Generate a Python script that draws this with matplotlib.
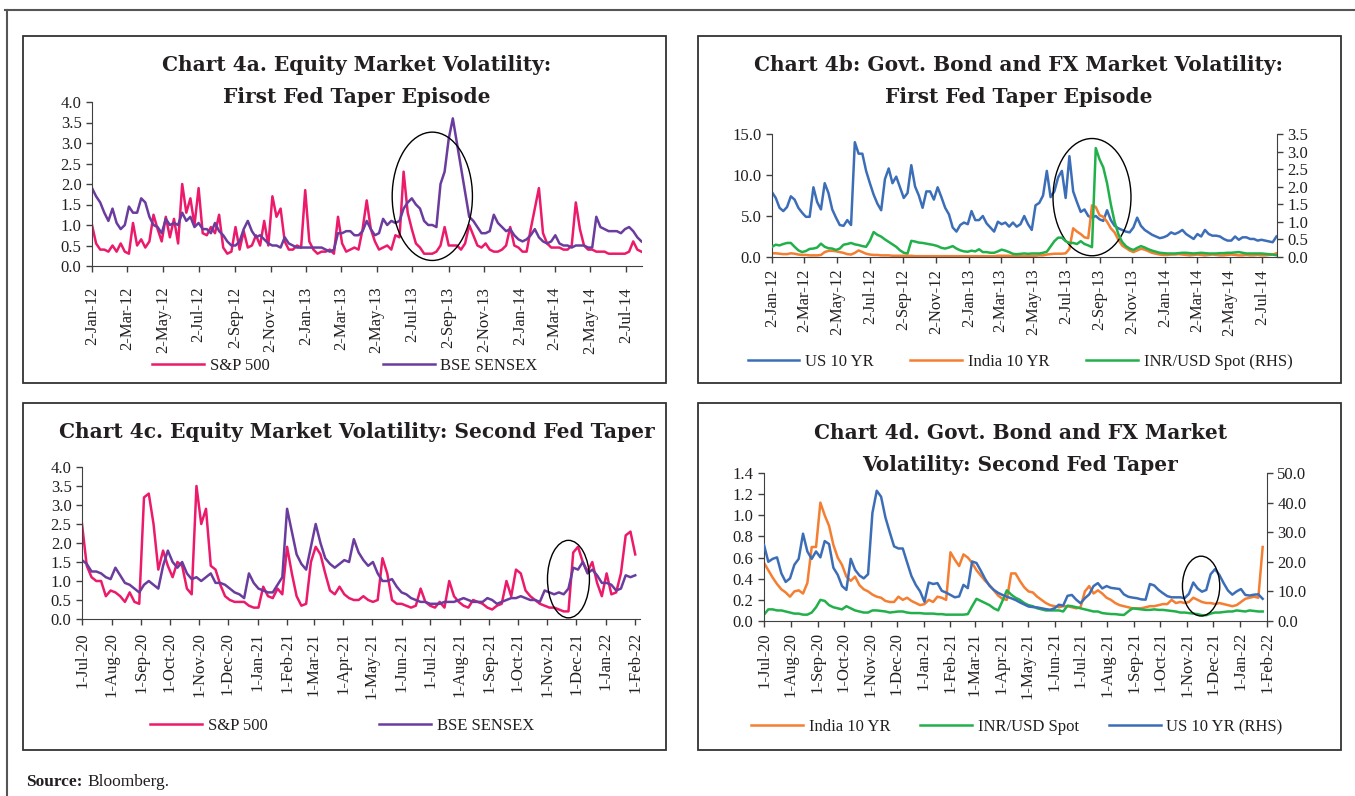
import matplotlib
matplotlib.use("Agg")
import matplotlib.pyplot as plt
import matplotlib.dates as mdates
from matplotlib.patches import Rectangle, Ellipse
from matplotlib.lines import Line2D
import numpy as np
import pandas as pd

# ---------------- data ----------------
START_1 = "2012-01-02"   # weekly observations, first taper episode
START_2 = "2020-07-01"   # 5-day observations, second taper episode

TICKS_1 = ["2-Jan-12", "2-Mar-12", "2-May-12", "2-Jul-12", "2-Sep-12", "2-Nov-12",
           "2-Jan-13", "2-Mar-13", "2-May-13", "2-Jul-13", "2-Sep-13", "2-Nov-13",
           "2-Jan-14", "2-Mar-14", "2-May-14", "2-Jul-14"]
TICKS_2 = ["1-Jul-20", "1-Aug-20", "1-Sep-20", "1-Oct-20", "1-Nov-20", "1-Dec-20",
           "1-Jan-21", "1-Feb-21", "1-Mar-21", "1-Apr-21", "1-May-21", "1-Jun-21",
           "1-Jul-21", "1-Aug-21", "1-Sep-21", "1-Oct-21", "1-Nov-21", "1-Dec-21",
           "1-Jan-22", "1-Feb-22"]

# Chart 4a
sp500_a = [1.0, 0.55, 0.4, 0.4, 0.35, 0.5, 0.35, 0.55, 0.35, 0.3,
           1.05, 0.5, 0.65, 0.45, 0.6, 1.25, 0.9, 0.6, 1.2, 0.7,
           1.15, 0.55, 2.0, 1.3, 1.65, 1.0, 1.9, 0.8, 0.75, 0.95,
           0.8, 1.25, 0.45, 0.3, 0.35, 0.95, 0.4, 0.85, 0.45, 0.5,
           0.75, 0.5, 1.1, 0.5, 1.7, 1.2, 1.4, 0.6, 0.4, 0.4,
           0.5, 0.45, 1.85, 0.6, 0.4, 0.3, 0.35, 0.35, 0.4, 0.3,
           1.2, 0.55, 0.35, 0.4, 0.45, 0.4, 0.9, 1.6, 0.9, 0.6,
           0.4, 0.45, 0.5, 0.4, 0.75, 0.7, 2.3, 1.3, 0.9, 0.55,
           0.45, 0.3, 0.3, 0.3, 0.35, 0.5, 0.95, 0.5, 0.5, 0.5,
           0.4, 0.55, 1.0, 0.75, 0.5, 0.45, 0.55, 0.4, 0.35, 0.35,
           0.4, 0.5, 0.95, 0.5, 0.45, 0.35, 0.35, 0.9, 1.4, 1.9,
           0.8, 0.55, 0.45, 0.45, 0.45, 0.4, 0.4, 0.5, 1.55, 0.9,
           0.5, 0.4, 0.4, 0.35, 0.35, 0.35, 0.3, 0.3, 0.3, 0.3,
           0.3, 0.35, 0.6, 0.4, 0.35]
sensex_a = [1.9, 1.7, 1.55, 1.3, 1.1, 1.4, 1.05, 0.9, 1.0, 1.45,
            1.3, 1.3, 1.65, 1.55, 1.2, 1.0, 0.95, 0.8, 1.15, 1.0,
            1.05, 1.0, 1.3, 1.1, 1.2, 0.95, 1.05, 0.9, 0.9, 0.8,
            1.05, 0.85, 0.75, 0.6, 0.5, 0.5, 0.6, 0.9, 1.1, 0.85,
            0.7, 0.75, 0.65, 0.55, 0.5, 0.5, 0.45, 0.7, 0.55, 0.5,
            0.45, 0.45, 0.45, 0.45, 0.45, 0.45, 0.45, 0.4, 0.35, 0.4,
            0.8, 0.8, 0.85, 0.85, 0.75, 0.75, 0.85, 1.1, 0.9, 0.75,
            0.8, 1.15, 1.0, 1.1, 1.05, 1.1, 1.4, 1.55, 1.65, 1.5,
            1.4, 1.1, 1.0, 1.0, 0.95, 2.0, 2.3, 3.1, 3.6, 3.0,
            2.4, 1.8, 1.2, 1.1, 0.95, 0.8, 0.8, 0.85, 1.25, 1.05,
            0.95, 0.85, 0.9, 0.75, 0.65, 0.6, 0.65, 0.75, 0.9, 0.7,
            0.6, 0.55, 0.6, 0.75, 0.55, 0.5, 0.5, 0.45, 0.5, 0.5,
            0.5, 0.45, 0.45, 1.2, 0.95, 0.9, 0.85, 0.85, 0.85, 0.8,
            0.9, 0.95, 0.85, 0.7, 0.6]

# Chart 4b
us10_b = [7.9, 7.2, 6.0, 5.6, 6.1, 7.4, 7.0, 6.0, 5.4, 4.9,
          4.9, 8.5, 6.7, 5.8, 9.0, 7.8, 5.8, 4.8, 3.9, 3.8,
          4.5, 3.9, 14.0, 12.6, 12.6, 10.5, 9.0, 7.6, 6.5, 5.7,
          9.5, 10.8, 9.0, 9.8, 8.5, 7.2, 7.8, 11.2, 8.6, 7.5,
          6.0, 8.0, 8.0, 7.0, 8.5, 7.3, 6.0, 5.2, 3.6, 3.1,
          3.9, 4.2, 4.0, 5.6, 4.5, 4.5, 5.0, 4.1, 3.6, 3.1,
          4.3, 4.0, 4.2, 3.7, 4.2, 3.7, 4.0, 5.0, 4.0, 3.3,
          6.3, 6.6, 7.5, 10.5, 7.3, 8.0, 9.7, 10.5, 7.2, 12.3,
          8.0, 6.7, 5.5, 5.8, 5.0, 4.8, 5.0, 4.6, 4.4, 5.7,
          4.5, 3.8, 3.5, 3.3, 3.1, 3.0, 3.6, 4.8, 3.8, 3.3,
          3.0, 2.7, 2.5, 2.3, 2.4, 2.6, 3.0, 2.8, 3.0, 3.3,
          2.8, 2.5, 2.2, 2.8, 2.5, 3.3, 2.8, 2.6, 2.6, 2.5,
          2.2, 2.0, 2.0, 2.5, 2.1, 2.4, 2.4, 2.2, 2.2, 2.0,
          2.1, 2.0, 1.9, 1.8, 2.5]
india10_b = [0.45, 0.45, 0.4, 0.35, 0.35, 0.45, 0.4, 0.3, 0.25, 0.25,
             0.2, 0.2, 0.2, 0.25, 0.6, 0.75, 0.75, 0.7, 0.6, 0.5,
             0.35, 0.3, 0.5, 0.8, 0.6, 0.4, 0.3, 0.25, 0.25, 0.2,
             0.2, 0.2, 0.15, 0.15, 0.15, 0.15, 0.15, 0.15, 0.1, 0.1,
             0.1, 0.1, 0.1, 0.1, 0.1, 0.1, 0.1, 0.1, 0.1, 0.1,
             0.1, 0.1, 0.1, 0.1, 0.1, 0.1, 0.1, 0.1, 0.1, 0.1,
             0.15, 0.15, 0.15, 0.15, 0.1, 0.1, 0.1, 0.1, 0.1, 0.15,
             0.15, 0.2, 0.2, 0.3, 0.35, 0.4, 0.4, 0.4, 0.45, 1.0,
             3.5, 3.1, 2.8, 2.4, 2.3, 6.3, 6.1, 5.1, 4.9, 4.3,
             3.5, 3.0, 2.1, 1.4, 1.1, 0.8, 0.6, 0.8, 1.0, 0.9,
             0.7, 0.5, 0.4, 0.3, 0.25, 0.25, 0.3, 0.3, 0.35, 0.3,
             0.25, 0.2, 0.25, 0.3, 0.25, 0.2, 0.25, 0.3, 0.25, 0.2,
             0.2, 0.25, 0.3, 0.25, 0.2, 0.2, 0.25, 0.2, 0.2, 0.25,
             0.2, 0.2, 0.25, 0.3, 0.45]
inrusd_b = [0.29, 0.35, 0.33, 0.37, 0.40, 0.40, 0.29, 0.19, 0.14, 0.17,
            0.23, 0.24, 0.27, 0.38, 0.29, 0.25, 0.24, 0.20, 0.24, 0.35,
            0.37, 0.40, 0.36, 0.34, 0.31, 0.29, 0.46, 0.71, 0.63, 0.58,
            0.50, 0.43, 0.36, 0.29, 0.19, 0.12, 0.10, 0.46, 0.44, 0.41,
            0.40, 0.38, 0.36, 0.34, 0.31, 0.26, 0.24, 0.27, 0.31, 0.24,
            0.19, 0.16, 0.15, 0.18, 0.16, 0.22, 0.14, 0.14, 0.12, 0.12,
            0.16, 0.21, 0.18, 0.14, 0.09, 0.08, 0.09, 0.1, 0.09, 0.1,
            0.1, 0.1, 0.12, 0.15, 0.3, 0.45, 0.55, 0.55, 0.45, 0.4,
            0.4, 0.37, 0.45, 0.37, 0.33, 0.28, 3.1, 2.78, 2.55, 2.1,
            1.5, 1.0, 0.65, 0.43, 0.31, 0.24, 0.2, 0.26, 0.31, 0.27,
            0.22, 0.18, 0.15, 0.12, 0.11, 0.1, 0.1, 0.1, 0.11, 0.12,
            0.12, 0.11, 0.1, 0.11, 0.12, 0.11, 0.1, 0.1, 0.1, 0.11,
            0.11, 0.12, 0.12, 0.13, 0.14, 0.12, 0.1, 0.1, 0.1, 0.1,
            0.1, 0.09, 0.08, 0.07, 0.05]

# Chart 4c
sp500_c = [2.5, 1.4, 1.1, 1.0, 1.0, 0.6, 0.75, 0.7, 0.6, 0.45,
           0.7, 0.45, 0.4, 3.2, 3.3, 2.5, 1.3, 1.8, 1.4, 1.1,
           1.5, 1.4, 0.8, 0.65, 3.5, 2.5, 2.9, 1.4, 1.3, 0.9,
           0.6, 0.5, 0.45, 0.45, 0.45, 0.35, 0.3, 0.3, 0.85, 0.6,
           0.55, 0.8, 0.65, 1.9, 1.2, 0.6, 0.35, 0.4, 1.5, 1.9,
           1.7, 1.2, 0.75, 0.65, 0.85, 0.65, 0.55, 0.5, 0.5, 0.6,
           0.5, 0.45, 0.5, 1.6, 1.2, 0.5, 0.4, 0.4, 0.35, 0.3,
           0.35, 0.8, 0.45, 0.35, 0.3, 0.45, 0.3, 1.0, 0.6, 0.45,
           0.35, 0.3, 0.5, 0.45, 0.4, 0.3, 0.25, 0.35, 0.4, 1.0,
           0.6, 1.3, 1.2, 0.75, 0.6, 0.5, 0.4, 0.35, 0.3, 0.3,
           0.25, 0.2, 0.2, 1.75, 1.9, 1.5, 1.25, 1.5, 0.95, 0.6,
           1.2, 0.65, 0.7, 1.2, 2.2, 2.3, 1.7]
sensex_c = [1.55, 1.45, 1.25, 1.25, 1.2, 1.1, 1.05, 1.35, 1.15, 0.95,
            0.9, 0.8, 0.7, 0.9, 1.0, 0.9, 0.8, 1.4, 1.8, 1.5,
            1.35, 1.5, 1.2, 1.05, 1.1, 1.0, 1.1, 1.2, 0.95, 0.95,
            0.9, 0.8, 0.7, 0.65, 0.55, 1.2, 0.95, 0.8, 0.75, 0.7,
            0.7, 0.9, 1.1, 2.9, 2.3, 1.7, 1.45, 1.3, 1.9, 2.5,
            2.0, 1.6, 1.45, 1.35, 1.45, 1.55, 1.5, 2.1, 1.75, 1.55,
            1.4, 1.5, 1.2, 1.0, 1.0, 1.05, 0.85, 0.7, 0.65, 0.55,
            0.5, 0.45, 0.45, 0.4, 0.4, 0.4, 0.45, 0.45, 0.45, 0.5,
            0.55, 0.5, 0.45, 0.45, 0.45, 0.55, 0.5, 0.4, 0.45, 0.5,
            0.55, 0.55, 0.6, 0.55, 0.5, 0.5, 0.45, 0.75, 0.7, 0.65,
            0.7, 0.65, 0.8, 1.35, 1.3, 1.5, 1.2, 1.3, 1.15, 0.95,
            0.95, 0.9, 0.75, 0.8, 1.15, 1.1, 1.15]

# Chart 4d
india10_d = [0.55, 0.48, 0.41, 0.35, 0.3, 0.27, 0.23, 0.28, 0.29, 0.26,
             0.36, 0.7, 0.7, 1.12, 1.0, 0.9, 0.72, 0.6, 0.53, 0.42,
             0.38, 0.42, 0.34, 0.3, 0.28, 0.25, 0.23, 0.22, 0.19, 0.18,
             0.18, 0.23, 0.2, 0.22, 0.19, 0.17, 0.15, 0.16, 0.2, 0.18,
             0.23, 0.22, 0.2, 0.65, 0.58, 0.52, 0.63, 0.6, 0.55, 0.48,
             0.43, 0.38, 0.34, 0.29, 0.24, 0.21, 0.2, 0.45, 0.45, 0.38,
             0.32, 0.28, 0.27, 0.23, 0.2, 0.17, 0.15, 0.14, 0.13, 0.14,
             0.14, 0.13, 0.12, 0.13, 0.28, 0.33, 0.26, 0.29, 0.26, 0.22,
             0.2, 0.17, 0.15, 0.14, 0.13, 0.12, 0.12, 0.12, 0.13, 0.14,
             0.14, 0.15, 0.16, 0.16, 0.2, 0.17, 0.18, 0.17, 0.18, 0.22,
             0.2, 0.18, 0.17, 0.17, 0.16, 0.17, 0.16, 0.15, 0.14, 0.15,
             0.18, 0.21, 0.22, 0.23, 0.22, 0.7]
inrusd_d = [0.06, 0.11, 0.11, 0.1, 0.1, 0.09, 0.08, 0.07, 0.07, 0.06,
            0.06, 0.08, 0.13, 0.2, 0.19, 0.15, 0.13, 0.12, 0.11, 0.14,
            0.12, 0.1, 0.09, 0.08, 0.08, 0.1, 0.1, 0.095, 0.09, 0.08,
            0.085, 0.09, 0.09, 0.08, 0.075, 0.075, 0.075, 0.07, 0.07, 0.07,
            0.065, 0.065, 0.06, 0.06, 0.06, 0.06, 0.06, 0.065, 0.14, 0.21,
            0.19, 0.17, 0.15, 0.12, 0.1, 0.19, 0.29, 0.25, 0.22, 0.2,
            0.17, 0.15, 0.14, 0.12, 0.11, 0.1, 0.1, 0.1, 0.1, 0.09,
            0.145, 0.14, 0.13, 0.12, 0.11, 0.1, 0.09, 0.09, 0.075, 0.07,
            0.066, 0.065, 0.06, 0.057, 0.09, 0.12, 0.115, 0.11, 0.105, 0.105,
            0.11, 0.105, 0.105, 0.1, 0.095, 0.09, 0.08, 0.08, 0.075, 0.07,
            0.065, 0.055, 0.055, 0.07, 0.08, 0.08, 0.085, 0.09, 0.09, 0.1,
            0.095, 0.09, 0.1, 0.095, 0.09, 0.09]
us10_d = [25.7, 20.0, 21.0, 21.5, 16.1, 13.2, 14.4, 19.0, 21.0, 29.5,
          23.5, 21.0, 23.5, 21.5, 27.0, 26.0, 18.0, 15.6, 11.8, 10.5,
          21.0, 17.3, 15.4, 14.4, 15.8, 36.5, 44.0, 42.0, 35.0, 30.0,
          25.2, 24.5, 24.5, 19.8, 15.2, 12.2, 10.0, 6.5, 13.0, 12.5,
          12.8, 10.2, 9.6, 8.8, 8.0, 8.3, 12.2, 11.1, 20.1, 19.6,
          17.0, 14.2, 11.9, 10.5, 9.5, 8.8, 8.2, 7.7, 7.1, 6.3,
          5.6, 4.9, 4.7, 4.6, 4.3, 4.0, 3.8, 4.3, 5.5, 5.2,
          8.5, 8.8, 7.2, 6.0, 7.7, 9.0, 11.8, 12.8, 11.0, 11.8,
          11.2, 11.0, 10.8, 9.0, 8.2, 7.9, 7.7, 7.3, 7.2, 12.5,
          12.0, 10.5, 9.4, 8.4, 8.0, 8.0, 8.0, 7.7, 9.2, 13.0,
          11.0, 9.9, 10.5, 15.8, 17.5, 15.6, 12.8, 10.3, 8.9, 10.0,
          10.8, 8.8, 8.6, 8.9, 9.0, 7.5]

# ---------------- style ----------------
PINK = "#EC1A6A"
PURPLE = "#6A3C9E"
BLUE = "#3C6EB8"
ORANGE = "#F47E31"
GREEN = "#22B04B"
AX_COL = "#404040"
TXT = "#231f20"
SERIF = "Liberation Serif"
TFONT = "DejaVu Serif"
TSIZE = 14.5
LW = 1.8

W, H = 1355, 796
fig = plt.figure(figsize=(W / 100, H / 100), dpi=100)
fig.patch.set_facecolor("white")


def fx(x):
    return x / W


def fy(y):
    return 1 - y / H


def make_axes(l, r, t, b):
    return fig.add_axes([fx(l), fy(b), fx(r - l), (b - t) / H])


def style_axis(ax, right=False, xpad=3.5):
    for s in ["top", "right", "left", "bottom"]:
        ax.spines[s].set_visible(False)
    if right:
        ax.spines["right"].set_visible(True)
        ax.spines["right"].set_color(AX_COL)
    else:
        ax.spines["left"].set_visible(True)
        ax.spines["bottom"].set_visible(True)
        ax.spines["left"].set_color(AX_COL)
        ax.spines["bottom"].set_color(AX_COL)
    ax.tick_params(direction="out", length=4, width=1, colors=AX_COL,
                   labelcolor=TXT, labelsize=12)
    ax.tick_params(axis="x", pad=xpad)
    for lab in ax.get_xticklabels() + ax.get_yticklabels():
        lab.set_fontfamily(SERIF)
    ax.set_facecolor("none")


def set_dates(ax, ticks, xmin, xmax):
    tdates = pd.to_datetime(ticks, format="%d-%b-%y")
    ax.set_xticks(tdates)
    ax.set_xticklabels(ticks, rotation=90, fontfamily=SERIF, fontsize=12, color=TXT)
    ax.set_xlim(pd.Timestamp(xmin), pd.Timestamp(xmax))


def set_y(ax, lo, hi, step, fmt="{:.1f}"):
    vals = np.arange(lo, hi + step / 2, step)
    ax.set_yticks(vals)
    ax.set_yticklabels([fmt.format(v) for v in vals], fontfamily=SERIF,
                       fontsize=12, color=TXT)
    ax.set_ylim(lo, hi)


def add_ellipse(ax, center_date, center_y, width_days, height):
    e = Ellipse((mdates.date2num(pd.Timestamp(center_date)), center_y),
                width_days, height, fill=False, ec="black", lw=1.0, zorder=10)
    ax.add_patch(e)


def legend(handles, labels, cx, cy, colsp):
    fig.legend(handles, labels, loc="center", bbox_to_anchor=(fx(cx), fy(cy)),
               ncol=len(handles), frameon=False, handlelength=3.1,
               handletextpad=0.35, columnspacing=colsp,
               prop={"family": SERIF, "size": 12}, labelcolor=TXT)


def title(cx, cy, text):
    fig.text(fx(cx), fy(cy), text, ha="center", va="center", fontfamily=TFONT,
             fontweight="bold", fontsize=TSIZE, color=TXT, linespacing=1.75)


d1 = pd.date_range(START_1, periods=len(sp500_a), freq="7D")
d1b = pd.date_range(START_1, periods=len(us10_b), freq="7D")
d2c = pd.date_range(START_2, periods=len(sp500_c), freq="5D")
d2d = pd.date_range(START_2, periods=len(india10_d), freq="5D")

# ---------------- frame & boxes ----------------
fig.add_artist(Line2D([fx(5), 1], [fy(10), fy(10)], transform=fig.transFigure,
                      color="#555555", lw=1.5))
fig.add_artist(Line2D([fx(7), fx(7)], [fy(10), 0], transform=fig.transFigure,
                      color="#555555", lw=1.5))
for (l, t, r, b) in [(23, 36, 666, 383), (698, 36, 1341, 383),
                     (23, 403, 666, 750), (698, 403, 1341, 750)]:
    fig.add_artist(Rectangle((fx(l), fy(b)), fx(r - l), (b - t) / H,
                             transform=fig.transFigure, fill=False,
                             ec="#333333", lw=1.3))

# ---------------- Chart 4a ----------------
ax = make_axes(92, 642, 102, 266)
l1, = ax.plot(d1, sp500_a, color=PINK, lw=LW)
l2, = ax.plot(d1, sensex_a, color=PURPLE, lw=LW)
set_dates(ax, TICKS_1, "2012-01-02", "2014-07-29")
set_y(ax, 0, 4.0, 0.5)
style_axis(ax, xpad=11)
add_ellipse(ax, "2013-08-05", 1.70, 137, 3.13)
title(357, 81, "Chart 4a. Equity Market Volatility:\nFirst Fed Taper Episode")
legend([l1, l2], ["S&P 500", "BSE SENSEX"], 345, 366, 6.8)

# ---------------- Chart 4b ----------------
ax = make_axes(772, 1277, 134, 257)
b1, = ax.plot(d1b, us10_b, color=BLUE, lw=LW)
b2, = ax.plot(d1b, india10_b, color=ORANGE, lw=LW)
set_dates(ax, TICKS_1, "2012-01-02", "2014-07-29")
set_y(ax, 0, 15.0, 5.0)
style_axis(ax, xpad=4.5)
ax2 = ax.twinx()
b3, = ax2.plot(d1b, inrusd_b, color=GREEN, lw=LW)
set_y(ax2, 0, 3.5, 0.5)
style_axis(ax2, right=True)
ax2.set_xlim(ax.get_xlim())
add_ellipse(ax, "2013-08-19", 7.3, 145, 14.3)
title(1019, 81, "Chart 4b: Govt. Bond and FX Market Volatility:\nFirst Fed Taper Episode")
legend([b1, b2, b3], ["US 10 YR", "India 10 YR", "INR/USD Spot (RHS)"], 1020, 362, 2.2)

# ---------------- Chart 4c ----------------
ax = make_axes(82, 640, 467, 619)
c1, = ax.plot(d2c, sp500_c, color=PINK, lw=LW)
c2, = ax.plot(d2c, sensex_c, color=PURPLE, lw=LW)
set_dates(ax, TICKS_2, "2020-07-01", "2022-02-06")
set_y(ax, 0, 4.0, 0.5)
style_axis(ax, xpad=5.5)
add_ellipse(ax, "2021-11-23", 1.05, 44, 2.04)
title(357, 432, "Chart 4c. Equity Market Volatility: Second Fed Taper")
legend([c1, c2], ["S&P 500", "BSE SENSEX"], 342, 726, 6.7)

# ---------------- Chart 4d ----------------
ax = make_axes(764, 1267, 473, 621)
e1, = ax.plot(d2d, india10_d, color=ORANGE, lw=LW)
e2, = ax.plot(d2d, inrusd_d, color=GREEN, lw=LW)
set_dates(ax, TICKS_2, "2020-07-01", "2022-02-01")
set_y(ax, 0, 1.4, 0.2)
style_axis(ax, xpad=4)
ax2 = ax.twinx()
e3, = ax2.plot(d2d, us10_d, color=BLUE, lw=LW)
set_y(ax2, 0, 50.0, 10.0)
style_axis(ax2, right=True)
ax2.set_xlim(ax.get_xlim())
add_ellipse(ax2, "2021-11-17", 11.8, 43, 20.2)
title(1020, 449, "Chart 4d. Govt. Bond and FX Market\nVolatility: Second Fed Taper")
legend([e1, e2, e3], ["India 10 YR", "INR/USD Spot", "US 10 YR (RHS)"], 1017, 727, 1.8)

# ---------------- source ----------------
fig.text(fx(26), fy(782), "Source:", fontfamily=SERIF, fontweight="bold",
         fontsize=12.5, color=TXT, va="center", ha="left")
fig.text(fx(87), fy(782), "Bloomberg.", fontfamily=SERIF,
         fontsize=12.5, color=TXT, va="center", ha="left")

fig.savefig("out.png", dpi=100, facecolor="white")
